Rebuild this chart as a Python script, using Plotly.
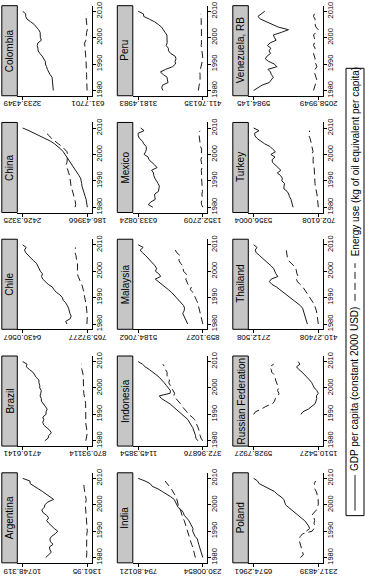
import plotly.graph_objects as go

# ---------------- data ----------------
years_gdp = list(range(1980, 2011))
years_energy = list(range(1980, 2010))
N = None

argentina_gdp = [7400, 6950, 6600, 6800, 6860, 6330, 6720, 6800, 6560, 6010, 5650, 6160, 6640, 6960, 7260, 6980, 7260, 7780, 7980, 7620, 7500, 7120, 6250, 6730, 7270, 7860, 8460, 9090, 9660, 9700, 10748.319]
argentina_energy = [1480, 1440, 1430, 1470, 1480, 1400, 1450, 1500, 1510, 1430, 1361.95, 1400, 1440, 1430, 1480, 1520, 1560, 1560, 1620, 1650, 1650, 1580, 1520, 1600, 1700, 1720, 1800, 1850, 1900, 1850]
brazil_gdp = [3400, 3200, 3160, 3010, 3110, 3290, 3470, 3520, 3460, 3520, 3330, 3320, 3260, 3370, 3510, 3600, 3610, 3680, 3640, 3610, 3700, 3700, 3750, 3750, 3910, 3990, 4110, 4320, 4500, 4460, 4716.6141]
brazil_energy = [960, 920, 910, 870.93114, 900, 930, 960, 970, 960, 960, 930, 940, 940, 950, 970, 990, 1030, 1060, 1080, 1090, 1090, 1070, 1080, 1080, 1110, 1120, 1140, 1190, 1240, 1210]
chile_gdp = [2550, 2660, 2270, 2180, 2290, 2320, 2410, 2520, 2660, 2880, 2950, 3160, 3480, 3680, 3830, 4190, 4430, 4670, 4780, 4690, 4880, 5000, 5060, 5220, 5490, 5730, 5940, 6160, 6270, 6120, 6430.0567]
chile_energy = [800, 780, 770, 765.97277, 790, 800, 830, 860, 900, 960, 1000, 1020, 1080, 1120, 1180, 1250, 1370, 1500, 1560, 1640, 1640, 1600, 1610, 1620, 1700, 1710, 1760, 1840, 1830, 1800]
china_gdp = [186.43966, 193, 207, 227, 258, 288, 309, 340, 372, 381, 390, 420, 474, 534, 597, 655, 714, 772, 825, 880, 947, 1019, 1105, 1207, 1321, 1462, 1639, 1862, 2031, 2208, 2426.3325]
china_energy = [610, 590, 600, 620, 640, 670, 690, 720, 750, 760, 760, 780, 800, 830, 860, 900, 920, 890, 880, 870, 870, 890, 960, 1060, 1190, 1320, 1420, 1500, 1590, 1695]
colombia_gdp = [2000, 2010, 2000, 2000, 2030, 2050, 2130, 2190, 2240, 2270, 2320, 2320, 2380, 2450, 2540, 2610, 2620, 2650, 2620, 2480, 2520, 2520, 2530, 2590, 2680, 2770, 2910, 3060, 3110, 3110, 3233.4349]
colombia_energy = [640, 650, 660, 650, 650, 660, 660, 670, 680, 670, 680, 680, 690, 700, 720, 740, 730, 740, 740, 690, 680, 690, 660, 631.7701, 640, 650, 660, 670, 690, 696]
india_gdp = [230.00854, 238.5, 241.4, 253.7, 257.8, 265.5, 272.1, 276.8, 297, 308.3, 319.1, 315.9, 327, 336.1, 351.9, 371.6, 392.1, 400.7, 417.5, 445.9, 455.3, 469.4, 479.7, 509.9, 542, 583.8, 622, 672, 690, 735, 794.80121]
india_energy = [295, 300, 305, 312, 318, 328, 335, 342, 350, 360, 365, 372, 380, 385, 392, 405, 412, 420, 425, 440, 445, 448, 455, 462, 478, 490, 505, 523, 540, 560]
indonesia_gdp = [432, 456, 460, 470, 489, 494, 514, 532, 551, 586, 621, 656, 689, 724, 766, 817, 868, 893, 763, 760, 790, 810, 835, 861, 892, 930, 965, 1013, 1061, 1094, 1145.3854]
indonesia_energy = [372.96876, 395, 405, 410, 420, 430, 445, 455, 470, 500, 545, 565, 595, 620, 640, 670, 700, 720, 710, 730, 750, 770, 780, 770, 800, 800, 800, 820, 830, 850]
malaysia_gdp = [1870, 1950, 2020, 2090, 2200, 2110, 2080, 2150, 2300, 2450, 2620, 2790, 2950, 3160, 3380, 3620, 3880, 4040, 3680, 3800, 4030, 3950, 4050, 4200, 4390, 4540, 4700, 4900, 5050, 4850, 5184.7062]
malaysia_energy = [859.1027, 900, 950, 1000, 1050, 1100, 1140, 1160, 1200, 1280, 1350, 1450, 1520, 1700, 1620, 1850, 1900, 2000, 1900, 1980, 2150, 2200, 2200, 2350, 2450, 2450, 2400, 2600, 2700, 2550]
mexico_gdp = [5200, 5560, 5350, 5010, 5060, 5060, 4770, 4750, 4700, 4800, 4940, 5050, 5130, 5150, 5300, 4880, 5060, 5300, 5500, 5570, 5870, 5760, 5700, 5720, 5900, 6000, 6220, 6330, 6333.0824, 5880, 6140]
mexico_energy = [1352.2709, 1450, 1470, 1390, 1400, 1420, 1380, 1400, 1390, 1420, 1470, 1470, 1460, 1450, 1470, 1410, 1420, 1460, 1500, 1440, 1470, 1460, 1440, 1530, 1560, 1600, 1640, 1650, 1660, 1570]
peru_gdp = [2120, 2170, 2140, 1900, 1930, 1940, 2100, 2230, 2000, 1710, 1580, 1600, 1560, 1600, 1790, 1880, 1890, 1980, 1940, 1950, 1960, 1950, 2030, 2090, 2180, 2320, 2480, 2700, 2940, 2957, 3181.4983]
peru_energy = [600, 590, 570, 530, 520, 510, 530, 540, 510, 470, 450, 430, 411.76135, 420, 440, 460, 470, 480, 470, 470, 460, 450, 440, 440, 470, 480, 470, 480, 500, 510]
poland_gdp = [N, N, N, N, N, N, N, N, N, N, 3100, 2890, 2960, 3070, 3220, 3440, 3650, 3910, 4100, 4290, 4480, 4530, 4590, 4770, 5030, 5200, 5520, 5900, 6210, 6320, 6574.2961]
poland_energy = [3500, 3300, 3350, 3400, 3450, 3500, 3550, 3600, 3500, 3350, 2720, 2600, 2550, 2600, 2560, 2600, 2750, 2600, 2450, 2400, 2317.4839, 2320, 2330, 2400, 2400, 2450, 2550, 2550, 2580, 2500]
russia_gdp = [N, N, N, N, N, N, N, N, N, N, 2700, 2560, 2190, 2000, 1740, 1670, 1620, 1640, 1510.5427, 1610, 1775, 1870, 1960, 2110, 2270, 2420, 2620, 2840, 3000, 2770, 2890]
russia_energy = [N, N, N, N, N, N, N, N, N, N, 5928.7927, 5800, 5400, 5100, 4650, 4500, 4450, 4250, 4200, 4300, 4220, 4300, 4330, 4430, 4460, 4520, 4700, 4730, 4840, 4560]
thailand_gdp = [800, 830, 860, 890, 920, 940, 970, 1050, 1170, 1300, 1430, 1530, 1640, 1760, 1900, 2060, 2150, 2090, 1850, 1920, 1970, 2000, 2090, 2210, 2330, 2410, 2510, 2620, 2660, 2590, 2712.508]
thailand_energy = [410.27408, 420, 420, 440, 460, 480, 500, 540, 590, 650, 720, 760, 820, 890, 960, 1060, 1150, 1190, 1130, 1170, 1180, 1210, 1280, 1360, 1470, 1510, 1520, 1540, 1550, 1500]
turkey_gdp = [2520, 2570, 2620, 2670, 2780, 2830, 2950, 3180, 3170, 3130, 3330, 3290, 3420, 3650, 3400, 3600, 3780, 4000, 4030, 3820, 4120, 3790, 3990, 4180, 4560, 4850, 5100, 5260, 5290, 4970, 5356.0004]
turkey_energy = [702.6108, 710, 730, 750, 780, 800, 850, 900, 920, 940, 950, 940, 960, 990, 960, 1000, 1060, 1090, 1080, 1060, 1180, 1080, 1120, 1150, 1200, 1230, 1290, 1370, 1350, 1330]
venezuela_gdp = [5984.145, 5700, 5480, 5040, 4910, 4790, 4910, 4960, 5120, 4570, 4730, 5080, 5280, 5170, 4960, 5050, 4940, 5150, 4990, 4620, 4720, 4790, 4300, 3870, 4490, 4850, 5220, 5560, 5730, 5490, 5310]
venezuela_energy = [2350, 2300, 2250, 2200, 2150, 2200, 2250, 2300, 2250, 2150, 2200, 2300, 2250, 2300, 2350, 2300, 2250, 2350, 2300, 2250, 2300, 2350, 2200, 2058.9949, 2200, 2250, 2300, 2250, 2350, 2300]

# tick labels (max, min) as printed on each panel
argentina_ticks = ["10748.319", "1361.95"]
brazil_ticks = ["4716.6141", "870.93114"]
chile_ticks = ["6430.0567", "765.97277"]
china_ticks = ["2426.3325", "186.43966"]
colombia_ticks = ["3233.4349", "631.7701"]
india_ticks = ["794.80121", "230.00854"]
indonesia_ticks = ["1145.3854", "372.96876"]
malaysia_ticks = ["5184.7062", "859.1027"]
mexico_ticks = ["6333.0824", "1352.2709"]
peru_ticks = ["3181.4983", "411.76135"]
poland_ticks = ["6574.2961", "2317.4839"]
russia_ticks = ["5928.7927", "1510.5427"]
thailand_ticks = ["2712.508", "410.27408"]
turkey_ticks = ["5356.0004", "702.6108"]
venezuela_ticks = ["5984.145", "2058.9949"]

year_ticks = [1980, 1990, 2000, 2010]
legend_labels = ["GDP per capita (constant 2000 USD)", "Energy use (kg of oil equivalent per capita)"]

# grid: columns of the (rotated) picture, top to bottom
grid = [
    [("Colombia", colombia_gdp, colombia_energy, colombia_ticks),
     ("China", china_gdp, china_energy, china_ticks),
     ("Chile", chile_gdp, chile_energy, chile_ticks),
     ("Brazil", brazil_gdp, brazil_energy, brazil_ticks),
     ("Argentina", argentina_gdp, argentina_energy, argentina_ticks)],
    [("Peru", peru_gdp, peru_energy, peru_ticks),
     ("Mexico", mexico_gdp, mexico_energy, mexico_ticks),
     ("Malaysia", malaysia_gdp, malaysia_energy, malaysia_ticks),
     ("Indonesia", indonesia_gdp, indonesia_energy, indonesia_ticks),
     ("India", india_gdp, india_energy, india_ticks)],
    [("Venezuela, RB", venezuela_gdp, venezuela_energy, venezuela_ticks),
     ("Turkey", turkey_gdp, turkey_energy, turkey_ticks),
     ("Thailand", thailand_gdp, thailand_energy, thailand_ticks),
     ("Russian Federation", russia_gdp, russia_energy, russia_ticks),
     ("Poland", poland_gdp, poland_energy, poland_ticks)],
]

# ---------------- layout (pixels) ----------------
W, H = 365, 578
strip_left = [1.8, 117.3, 232.8]
strip_w = 15.5
plot_w = 74.4
row_top0, row_pitch, panel_h = 1.7, 118.0, 91.0
FONT = "Liberation Sans, Arial, sans-serif"
INK = "#000000"
DASH = "7px,4px"

fig = go.Figure()
shapes, annotations = [], []
layout_axes = {}

def px(x):
    return x / W

def py(y):
    return 1 - y / H

idx = 0
for c, col in enumerate(grid):
    for r, (name, gdp, energy, ticks) in enumerate(col):
        idx += 1
        xa = "x" if idx == 1 else f"x{idx}"
        ya = "y" if idx == 1 else f"y{idx}"
        top = row_top0 + r * row_pitch
        bot = top + panel_h
        x0 = strip_left[c] + strip_w
        x1 = x0 + plot_w
        vals = [v for v in gdp + energy if v is not None]
        vmax, vmin = max(vals), min(vals)
        span = vmax - vmin
        fig.add_trace(go.Scatter(x=gdp, y=years_gdp, mode="lines", xaxis=xa, yaxis=ya,
                                 line=dict(color="#1a1a1a", width=1), showlegend=False,
                                 connectgaps=False, hoverinfo="skip"))
        fig.add_trace(go.Scatter(x=energy, y=years_energy, mode="lines", xaxis=xa, yaxis=ya,
                                 line=dict(color="#1a1a1a", width=1, dash=DASH), showlegend=False,
                                 connectgaps=False, hoverinfo="skip"))
        key = "" if idx == 1 else str(idx)
        tv = [float(ticks[0]), float(ticks[1])]
        layout_axes["xaxis" + key] = dict(
            domain=[px(x0), px(x1)], anchor=ya,
            range=[vmax + 0.083 * span, vmin - 0.068 * span],
            tickvals=tv, showticklabels=False,
            ticks="outside", ticklen=3, tickwidth=1, tickcolor=INK,
            showline=True, linecolor=INK, linewidth=1, showgrid=False, zeroline=False,
            fixedrange=True)
        layout_axes["yaxis" + key] = dict(
            domain=[py(bot), py(top)], anchor=xa, side="right",
            range=[1978.0, 2012.1], tickvals=year_ticks,
            tickangle=-90, ticks="outside", ticklen=3, tickwidth=1, tickcolor=INK,
            ticklabelstandoff=-3,
            showline=True, linecolor=INK, linewidth=1, showgrid=False, zeroline=False,
            tickfont=dict(family=FONT, size=7.5, color=INK), fixedrange=True)
        # value-axis tick labels, drawn upside down (the whole graph is rotated)
        for val, lab in zip(tv, ticks):
            annotations.append(dict(xref=xa, yref="paper", x=val, y=py(bot + 2.5), text=lab,
                                    showarrow=False, textangle=180,
                                    font=dict(family=FONT, size=8, color=INK),
                                    xanchor="center", yanchor="top", borderpad=0))
        # title strip
        shapes.append(dict(type="rect", xref="paper", yref="paper",
                           x0=px(strip_left[c]), x1=px(x0), y0=py(bot), y1=py(top),
                           fillcolor="#c6c6c6", line=dict(color=INK, width=1)))
        annotations.append(dict(xref="paper", yref="paper", x=px(strip_left[c] + strip_w / 2),
                                y=py((top + bot) / 2), text=name, showarrow=False, textangle=-90,
                                font=dict(family=FONT, size=10, color=INK),
                                xanchor="center", yanchor="middle"))

# legend box (drawn rotated)
lx0, lx1, ly0, ly1 = 346, 364, 65, 517
lxc = (lx0 + lx1) / 2
shapes.append(dict(type="rect", xref="paper", yref="paper", x0=px(lx0), x1=px(lx1), y0=py(ly1), y1=py(ly0),
                   fillcolor="white", line=dict(color=INK, width=1)))
shapes.append(dict(type="line", xref="paper", yref="paper", x0=px(lxc), x1=px(lxc), y0=py(512), y1=py(476),
                   line=dict(color="#1a1a1a", width=1)))
shapes.append(dict(type="line", xref="paper", yref="paper", x0=px(lxc), x1=px(lxc), y0=py(300), y1=py(262),
                   line=dict(color="#1a1a1a", width=1, dash=DASH)))
annotations.append(dict(xref="paper", yref="paper", x=px(lxc), y=py(389), text=legend_labels[0],
                        showarrow=False, textangle=-90, font=dict(family=FONT, size=10, color=INK),
                        xanchor="center", yanchor="middle"))
annotations.append(dict(xref="paper", yref="paper", x=px(lxc), y=py(159), text=legend_labels[1],
                        showarrow=False, textangle=-90, font=dict(family=FONT, size=10, color=INK),
                        xanchor="center", yanchor="middle"))

fig.update_layout(width=W, height=H, margin=dict(l=0, r=0, t=0, b=0),
                  paper_bgcolor="white", plot_bgcolor="white",
                  shapes=shapes, annotations=annotations, **layout_axes)
fig.write_html("out.html", config={"displayModeBar": False, "staticPlot": True},
               post_script="document.body.style.margin='0px';")
